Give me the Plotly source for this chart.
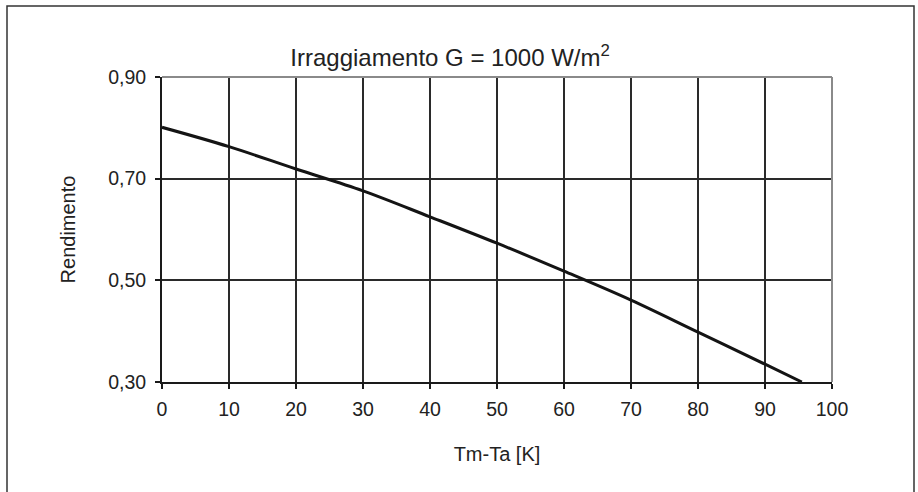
import plotly.graph_objects as go

# Tm-Ta [K] vs Rendimento
delta_t = [0, 10, 20, 30, 40, 50, 60, 70, 80, 90, 95.5]
rendimento = [0.801, 0.763, 0.719, 0.676, 0.625, 0.573, 0.518, 0.461, 0.398, 0.335, 0.300]

x_ticks = [0, 10, 20, 30, 40, 50, 60, 70, 80, 90, 100]
y_ticks = [0.30, 0.50, 0.70, 0.90]

font = "Liberation Sans, Arial, sans-serif"

fig = go.Figure()
fig.add_trace(go.Scatter(
    x=delta_t, y=rendimento, mode="lines",
    line=dict(color="#141414", width=3, shape="spline"),
    showlegend=False, hoverinfo="skip",
))

fig.update_layout(
    width=918, height=492,
    margin=dict(l=162, r=86, t=77, b=110),
    paper_bgcolor="white", plot_bgcolor="white",
    separators=",.",
    font=dict(family=font, size=19.5, color="#222"),
    title=dict(
        text="Irraggiamento G = 1000 W/m<sup>2</sup>",
        x=0.43, xref="paper", xanchor="center",
        y=1 - 58 / 492, yref="container", yanchor="middle",
        font=dict(family=font, size=24, color="#222"),
    ),
)

fig.update_xaxes(
    range=[0, 100], tickvals=x_ticks,
    showgrid=True, gridcolor="#2a2a2a", gridwidth=1.5,
    showline=True, linecolor="#1a1a1a", linewidth=2,
    ticks="outside", ticklen=5, tickcolor="#1a1a1a", tickwidth=1.5,
    ticklabelstandoff=4, tickfont=dict(size=19.5),
    zeroline=False,
    title=dict(text="Tm-Ta [K]", standoff=28, font=dict(size=20)),
)
fig.update_yaxes(
    range=[0.30, 0.90], tickvals=y_ticks, tickformat=".2f",
    showgrid=True, gridcolor="#2a2a2a", gridwidth=1.5,
    showline=True, linecolor="#1a1a1a", linewidth=2,
    ticks="outside", ticklen=5, tickcolor="#1a1a1a", tickwidth=1.5,
    ticklabelstandoff=5, tickfont=dict(size=19.5),
    zeroline=False,
    title=dict(text="Rendimento", standoff=27, font=dict(size=20)),
)

# lighter top and right edges of the plot area
fig.add_shape(type="line", xref="paper", yref="paper", x0=0, x1=1, y0=1, y1=1,
              line=dict(color="#8a8a8a", width=2), layer="above")
fig.add_shape(type="line", xref="paper", yref="paper", x0=1, x1=1, y0=0, y1=1,
              line=dict(color="#8a8a8a", width=2), layer="above")

# outer frame around the whole chart (bottom edge lies below the window)
fig.add_shape(type="rect", xref="paper", yref="paper",
              x0=(7 - 162) / 670, x1=(914 - 162) / 670,
              y0=(382 - 520) / 305, y1=(382 - 6) / 305,
              line=dict(color="#333", width=1.5), layer="below")

fig.write_html("out.html", config={"displayModeBar": False},
               post_script="document.body.style.margin='0';")
